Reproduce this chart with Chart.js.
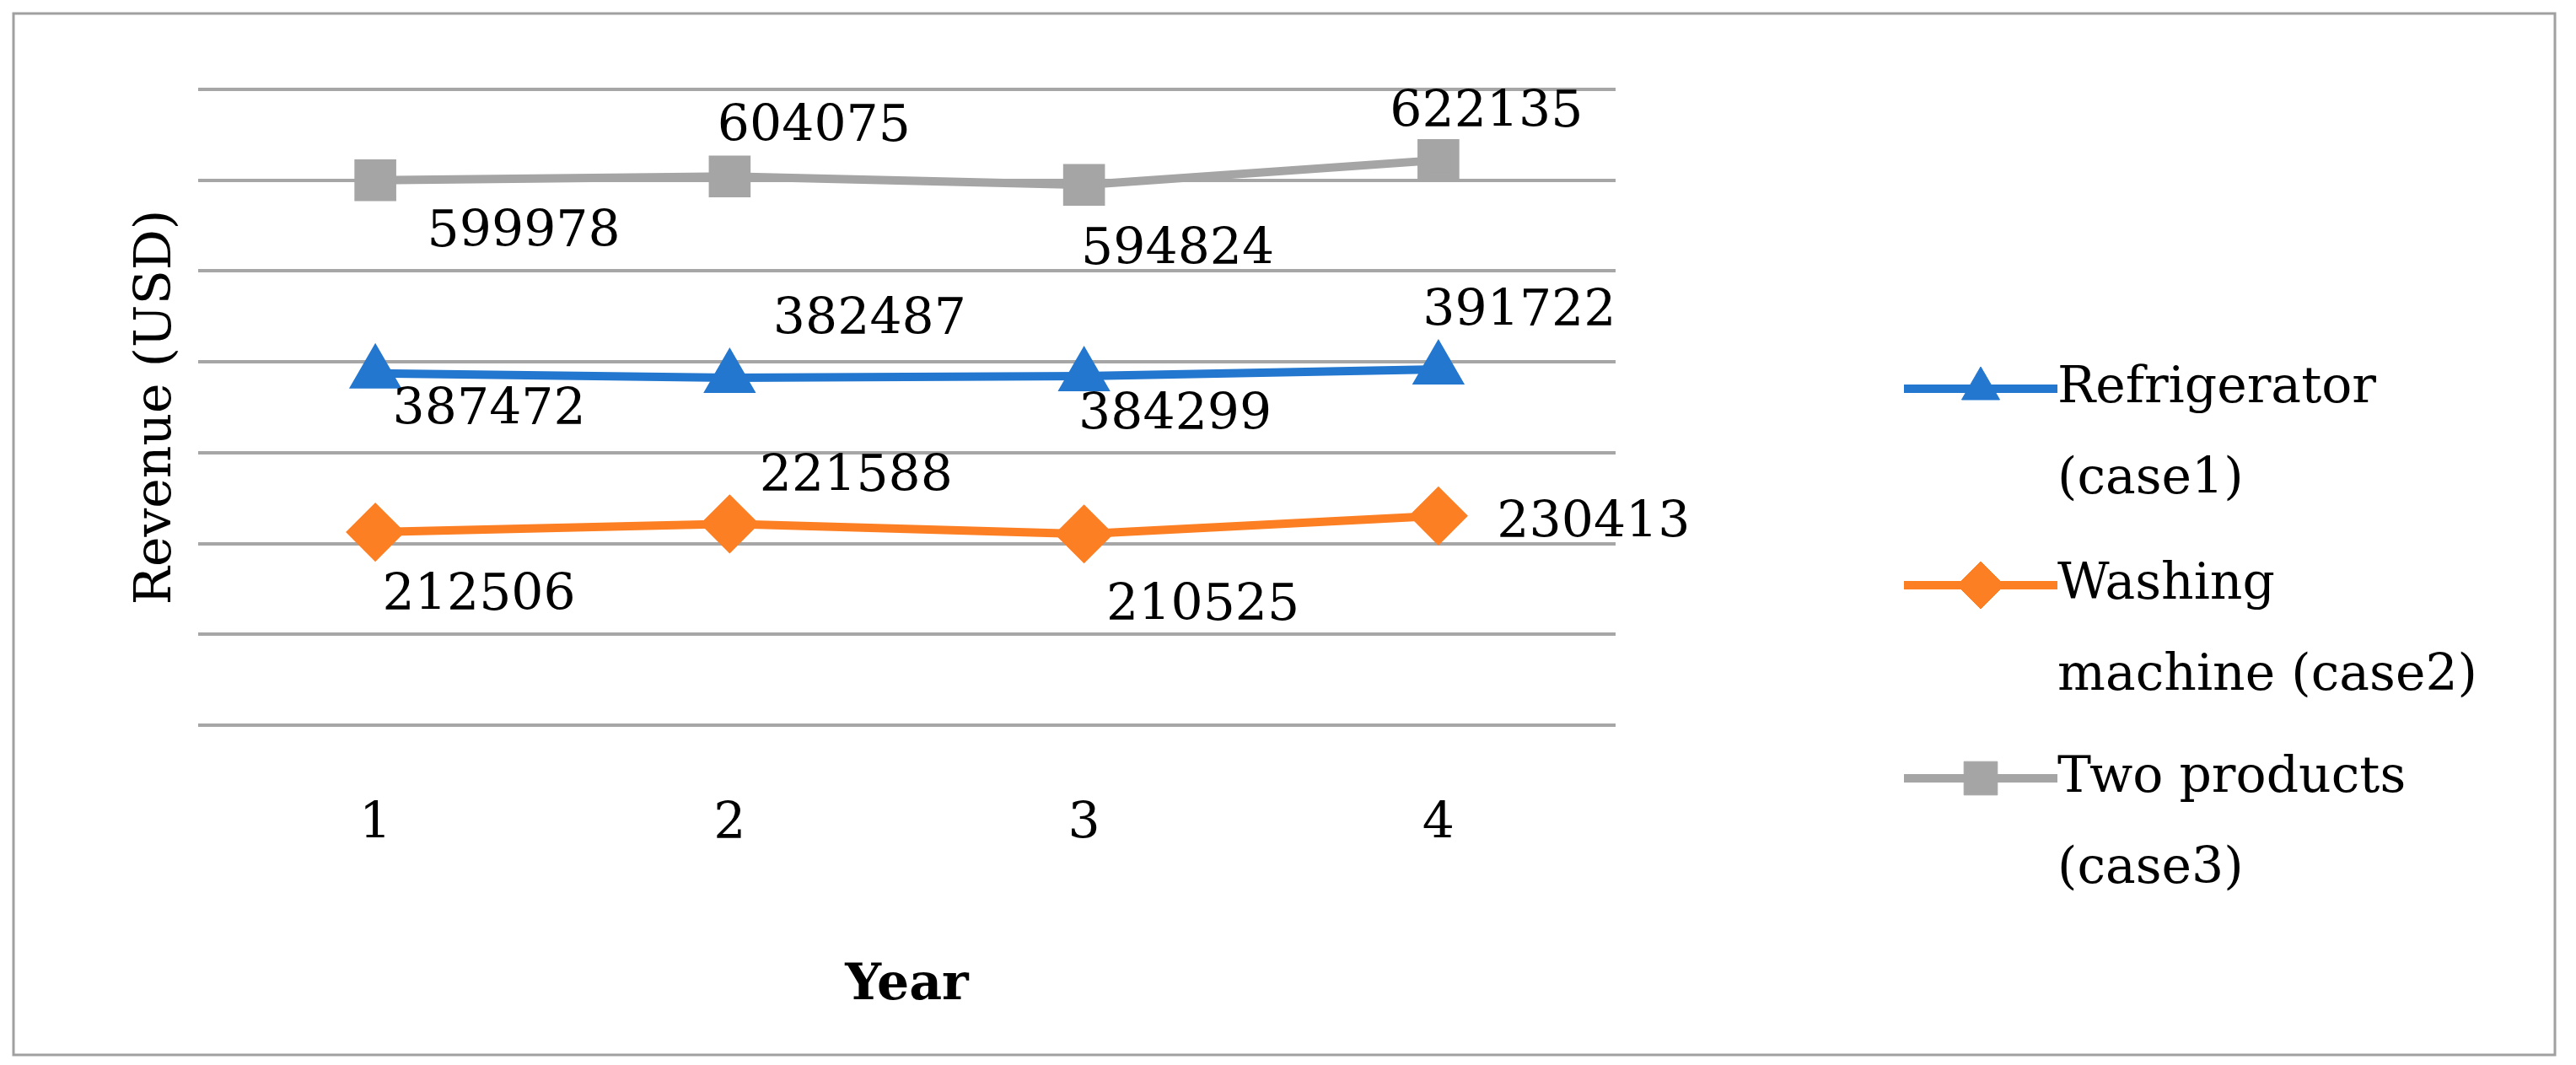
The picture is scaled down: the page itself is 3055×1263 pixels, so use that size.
<!DOCTYPE html>
<html>
<head>
<meta charset="utf-8">
<script src="https://cdn.jsdelivr.net/npm/chart.js@4/dist/chart.umd.min.js"></script>
<style>
  html, body { margin: 0; padding: 0; background: #fff; }
</style>
</head>
<body>
<canvas id="chart" width="3055" height="1263"></canvas>
<script>
(function() {
    'use strict';

    var years = ['1', '2', '3', '4'];
    var refrigerator = [387472, 382487, 384299, 391722];
    var washing = [212506, 221588, 210525, 230413];
    var twoProducts = [599978, 604075, 594824, 622135];
    var seriesNames = [['Refrigerator', '(case1)'], ['Washing', 'machine (case2)'], ['Two products', '(case3)']];

    // label offsets from point (px), per series
    var labelOffsets = [
        [[135, 45], [166, -68], [108, 47], [96, -68]],
        [[123, 76], [150, -55], [141, 86], [184, 10]],
        [[176, 63], [100, -58], [111, 78], [57, -55]]
    ];

    var FONT = '60px "DejaVu Serif"';
    var GRID = '#a6a6a6';

    function ds(label, data, color, style) {
        return {
            label: label, data: data, borderColor: color, backgroundColor: color,
            borderWidth: 10, pointStyle: style, pointRadius: style === 'triangle' ? 26 : 28,
            pointHoverRadius: 28, tension: 0
        };
    }

    var extras = {
        id: 'extras',
        afterDraw: function(chart) {
            var ctx = chart.ctx, x = chart.scales.x, area = chart.chartArea;
            ctx.save();
            // outer frame
            ctx.strokeStyle = '#a0a0a0';
            ctx.lineWidth = 3;
            ctx.strokeRect(16, 16, 3014, 1235);

            ctx.fillStyle = '#000';
            ctx.font = FONT;
            ctx.textAlign = 'center';
            ctx.textBaseline = 'middle';
            years.forEach(function(y, i) {
                ctx.fillText(y, x.getPixelForValue(i), 978);
            });
            ctx.font = 'bold 60px "DejaVu Serif"';
            ctx.fillText('Year', (area.left + area.right) / 2, 1169);

            ctx.font = FONT;
            ctx.save();
            ctx.translate(186, (area.top + area.bottom) / 2);
            ctx.rotate(-Math.PI / 2);
            ctx.fillText('Revenue (USD)', 0, 0);
            ctx.restore();

            // data labels
            chart.data.datasets.forEach(function(d, si) {
                chart.getDatasetMeta(si).data.forEach(function(pt, i) {
                    var o = labelOffsets[si][i];
                    ctx.fillText(String(d.data[i]), pt.x + o[0], pt.y + o[1]);
                });
            });

            // legend
            var rows = [461, 694, 923];
            ctx.textAlign = 'left';
            chart.data.datasets.forEach(function(d, si) {
                var y = rows[si];
                ctx.strokeStyle = d.borderColor;
                ctx.lineWidth = 10;
                ctx.beginPath();
                ctx.moveTo(2258, y);
                ctx.lineTo(2440, y);
                ctx.stroke();
                ctx.fillStyle = d.borderColor;
                ctx.lineWidth = 1;
                Chart.helpers.drawPoint(ctx, {pointStyle: d.pointStyle, radius: d.pointRadius, rotation: 0, borderWidth: 1}, 2349, y);
                ctx.fillStyle = '#000';
                ctx.fillText(seriesNames[si][0], 2440, y);
                ctx.fillText(seriesNames[si][1], 2440, y + 108);
            });
            ctx.restore();
        }
    };

    new Chart(document.getElementById('chart'), {
        type: 'line',
        data: {
            labels: years,
            datasets: [
                ds('Refrigerator (case1)', refrigerator, '#2377cf', 'triangle'),
                ds('Washing machine (case2)', washing, '#fd7f24', 'rectRot'),
                ds('Two products (case3)', twoProducts, '#a5a5a5', 'rect')
            ]
        },
        options: {
            responsive: false,
            devicePixelRatio: 1,
            animation: false,
            layout: { padding: { left: 235, right: 1139, top: 106, bottom: 395 } },
            plugins: { legend: { display: false }, tooltip: { enabled: false } },
            scales: {
                x: {
                    offset: true,
                    grid: { display: false },
                    border: { display: false },
                    ticks: { display: false }
                },
                y: {
                    min: 0, max: 700000,
                    ticks: { display: false, stepSize: 100000 },
                    border: { display: false },
                    grid: { color: GRID, lineWidth: 4, drawTicks: false }
                }
            }
        },
        plugins: [extras]
    });
})();
</script>
</body>
</html>
